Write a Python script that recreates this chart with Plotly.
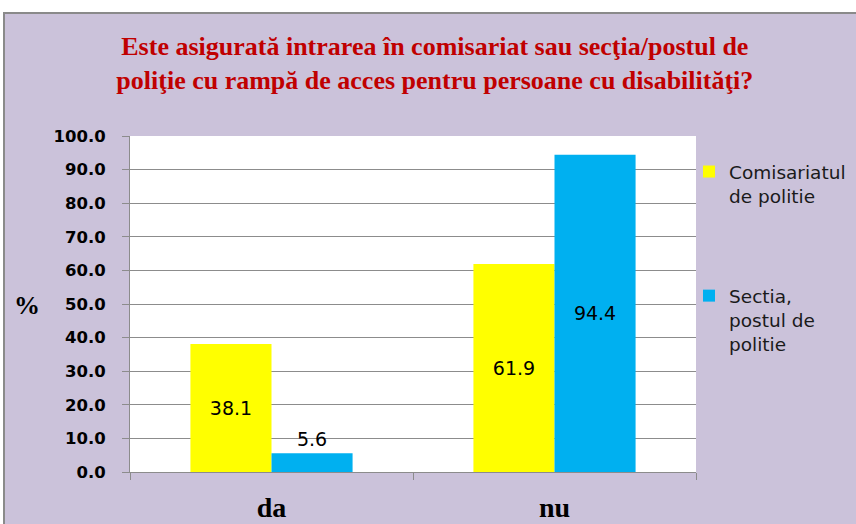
import plotly.graph_objects as go

categories = ["da", "nu"]
comisariat = [38.1, 61.9]
sectia = [5.6, 94.4]
series_names = ["Comisariatul<br>de politie", "Sectia,<br>postul de<br>politie"]
title_text = "<b>Este asigurată intrarea în comisariat sau secţia/postul de<br>poliţie cu rampă de acces pentru persoane cu disabilităţi?</b>"

W, H = 856, 524
L, R, T, B = 130, 160, 136, 52
PW, PH = W - L - R, H - T - B
def px(x):
    return (x - L) / PW
def py(y):
    return (H - B - y) / PH

BG = "#CBC2DA"
GRID = "#8C8C8C"

fig = go.Figure()
fig.add_trace(go.Bar(
    x=categories, y=comisariat, name=series_names[0], legendgroup="a",
    marker=dict(color="#FFFF00", line=dict(width=0)),
    text=[f"{v:.1f}" for v in comisariat], textposition="inside",
    insidetextanchor="middle",
    textfont=dict(family="DejaVu Sans", size=19, color="black"),
))
fig.add_trace(go.Bar(
    x=categories, y=sectia, name=series_names[1], legendgroup="b",
    marker=dict(color="#00B0F0", line=dict(width=0)),
    text=[f"{v:.1f}" for v in sectia],
    textposition=["outside", "inside"],
    insidetextanchor="middle",
    textfont=dict(family="DejaVu Sans", size=19, color="black"),
    cliponaxis=False,
))

fig.update_layout(
    width=W, height=H,
    margin=dict(l=L, r=R, t=T, b=B, autoexpand=False),
    paper_bgcolor=BG, plot_bgcolor="white",
    barmode="group", bargap=0.427, bargroupgap=0,
    title=dict(text=title_text, x=0.508, xanchor="center", y=0.895, yanchor="top",
               font=dict(family="Liberation Serif", size=26, color="#C00000")),
    showlegend=True,
    legend=dict(x=px(689), xanchor="left", y=py(153), yanchor="top",
                bgcolor="rgba(0,0,0,0)", borderwidth=0,
                font=dict(family="DejaVu Sans", size=18.5, color="#1A1A1A"),
                tracegroupgap=73, valign="top", traceorder="grouped"),
    uniformtext=dict(mode="show", minsize=10),
)
fig.update_yaxes(
    range=[0, 100], dtick=10, tickformat=".1f", automargin=False,
    showgrid=True, gridcolor=GRID, gridwidth=1,
    showline=True, linecolor=GRID, linewidth=1,
    ticks="outside", ticklen=7, tickcolor=GRID, ticklabelstandoff=13,
    tickfont=dict(family="DejaVu Sans", size=16.5, color="black", weight="bold"),
    zeroline=False,
)
fig.update_xaxes(
    showline=True, linecolor=GRID, linewidth=1, automargin=False,
    ticks="outside", tickson="boundaries", ticklen=7, tickcolor=GRID, ticklabelstandoff=10,
    tickfont=dict(family="Liberation Serif", size=28, color="black", weight="bold"),
    showgrid=False,
)

fig.add_annotation(text="<b>%</b>", xref="paper", yref="paper", x=px(27), y=py(305),
                   xanchor="center", yanchor="middle",
                   showarrow=False, font=dict(family="Liberation Serif", size=26, color="black"))

# white page area outside the chart frame, and the frame itself
fig.add_shape(type="rect", xref="paper", yref="paper", x0=px(-5), x1=px(W + 5), y0=py(13), y1=py(-5),
              fillcolor="white", line=dict(width=0), layer="above")
fig.add_shape(type="rect", xref="paper", yref="paper", x0=px(-5), x1=px(4), y0=py(H + 5), y1=py(-5),
              fillcolor="white", line=dict(width=0), layer="above")
fig.add_shape(type="rect", xref="paper", yref="paper", x0=px(4), x1=px(W + 20), y0=py(H + 20), y1=py(13),
              fillcolor="rgba(0,0,0,0)", line=dict(width=2, color="#8A8A8A"), layer="above")

fig.write_html("out.html", config={"displayModeBar": False},
               post_script="document.body.style.margin='0px';document.body.style.overflow='hidden';")
